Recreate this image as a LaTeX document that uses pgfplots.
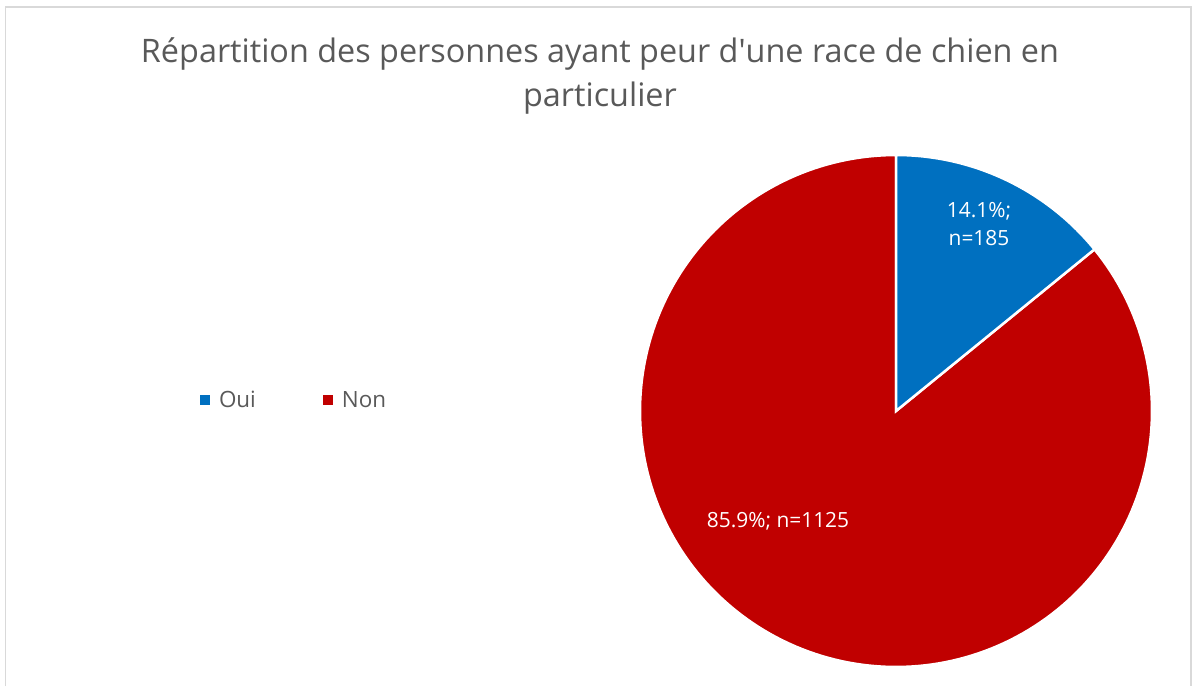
\documentclass[border=0pt]{standalone}
\usepackage{pgfplots}
\pgfplotsset{compat=1.18}
\usepackage{fontspec}
\setmainfont{Open Sans}[Ligatures={NoCommon}]
\definecolor{oui}{HTML}{0070C0}
\definecolor{non}{HTML}{C00000}
\definecolor{txtgray}{HTML}{595959}
\definecolor{framegray}{HTML}{D9D9D9}
% data
\def\nOui{185}
\def\nNon{1125}
\pgfmathsetmacro{\tot}{\nOui+\nNon}
\pgfmathsetmacro{\aOui}{\nOui/\tot*360}
\pgfmathsetmacro{\aStart}{90-\aOui}
\pgfmathsetmacro{\aEnd}{360+\aStart}
\begin{document}
\begin{tikzpicture}
\fill[white] (0,0) rectangle (1196bp,686bp);
\begin{axis}[x=1bp,y=1bp,xmin=0,xmax=1196,ymin=0,ymax=686,
  hide axis, anchor=south west, at={(0,0)}, clip=false,
  legend style={at={(axis cs:200,286)}, anchor=west, draw=none, fill=none,
    inner sep=0pt, outer sep=0pt, legend columns=2,
    font=\fontsize{22.5}{27}\selectfont, text=txtgray,
    nodes={inner sep=0pt},
    /tikz/every odd column/.append style={column sep=9bp},
    /tikz/every even column/.append style={column sep=67bp}},
  legend image code/.code={\fill[#1] (0bp,-5bp) rectangle (10bp,5bp);},
]
\addplot[forget plot, fill=non, draw=white, line width=2.5bp, domain=90:\aEnd, samples=200, variable=\t]
  ({896+256*cos(\t)},{275+256*sin(\t)}) -- (axis cs:896,275) -- cycle;
\addplot[forget plot, fill=oui, draw=white, line width=2.5bp, domain=\aStart:90, samples=60, variable=\t]
  ({896+256*cos(\t)},{275+256*sin(\t)}) -- (axis cs:896,275) -- cycle;
\addlegendimage{fill=oui, draw=none}
\addlegendentry{Oui}
\addlegendimage{fill=non, draw=none}
\addlegendentry{Non}
\draw[framegray, line width=1.5bp] (axis cs:5.5,0) -- (axis cs:5.5,679) -- (axis cs:1191,679) -- (axis cs:1191,0);
\node[anchor=base, text=txtgray, font=\fontsize{32.5}{38}\selectfont, inner sep=0pt] at (axis cs:600,623.5) {Répartition des personnes ayant peur d\textquotesingle une race de chien en};
\node[anchor=base, text=txtgray, font=\fontsize{32.5}{38}\selectfont, inner sep=0pt] at (axis cs:600,579) {particulier};
\node[anchor=base, text=white, font=\fontsize{21}{26}\selectfont, inner sep=0pt] at (axis cs:979,468.7) {14.1\%;};
\node[anchor=base, text=white, font=\fontsize{21}{26}\selectfont, inner sep=0pt] at (axis cs:979,440) {n=185};
\node[anchor=base, text=white, font=\fontsize{21}{26}\selectfont, inner sep=0pt] at (axis cs:778,158.7) {85.9\%; n=1125};
\end{axis}
\end{tikzpicture}
\end{document}
